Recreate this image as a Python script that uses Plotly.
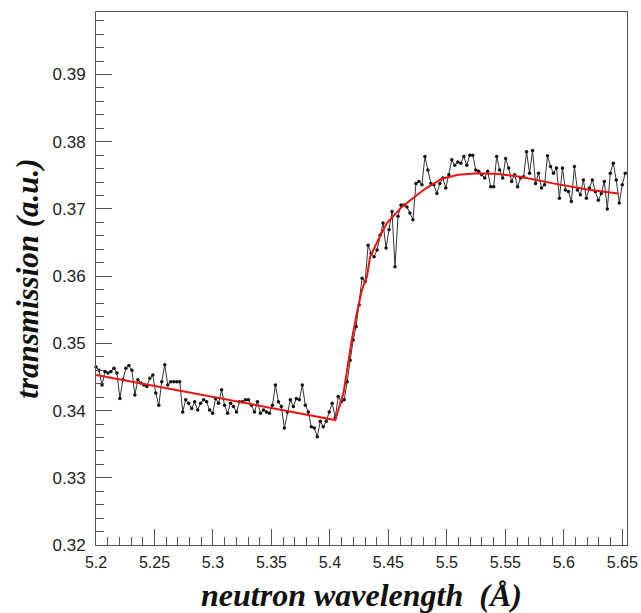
import numpy as np
import plotly.graph_objects as go

# measured transmission (black points), in order of increasing wavelength
seg_a = [0.3465, 0.3460, 0.3438, 0.3458, 0.3456, 0.3458, 0.3463, 0.3456, 0.3418, 0.3446,
         0.3463, 0.3467, 0.3460, 0.3423, 0.3446, 0.3441, 0.3438, 0.3436, 0.3448, 0.3453,
         0.3426, 0.3408, 0.3443, 0.3468, 0.3438]
seg_b = [0.3443, 0.3443, 0.3443, 0.3443, 0.3398, 0.3416, 0.3411, 0.3403, 0.3413, 0.3401,
         0.3411, 0.3416, 0.3413, 0.3401, 0.3396, 0.3418, 0.3411, 0.3431, 0.3408, 0.3396,
         0.3411, 0.3406, 0.3398, 0.3413, 0.3413, 0.3416]
seg_c = [0.3416, 0.3408, 0.3398, 0.3413, 0.3396, 0.3401, 0.3398, 0.3396, 0.3408, 0.3438,
         0.3413, 0.3406, 0.3374, 0.3398, 0.3416, 0.3406, 0.3418, 0.3416, 0.3438, 0.3408,
         0.3398, 0.3376, 0.3374, 0.3361, 0.3384, 0.3376, 0.3384, 0.3398, 0.3411, 0.3389]
seg_d = [0.3421, 0.3413, 0.3416, 0.3443, 0.3475, 0.3505, 0.3525, 0.3557, 0.3597, 0.3592,
         0.3646, 0.3634, 0.3629, 0.3639, 0.3661, 0.3679, 0.3642, 0.3669, 0.3696, 0.3614,
         0.3689, 0.3706, 0.3706, 0.3703, 0.3694, 0.3684, 0.3738, 0.3741, 0.3736]
seg_e = [0.3778, 0.3758, 0.3738, 0.3736, 0.3723, 0.3738, 0.3746, 0.3731, 0.3751, 0.3773,
         0.3765, 0.3770, 0.3768, 0.3778, 0.3765, 0.3780, 0.3780, 0.3758, 0.3756, 0.3751,
         0.3746, 0.3756, 0.3733, 0.3733, 0.3778, 0.3758, 0.3746, 0.3775, 0.3761, 0.3741,
         0.3751, 0.3733, 0.3746, 0.3748, 0.3785]
seg_f = [0.3753, 0.3787, 0.3738, 0.3753, 0.3731, 0.3736, 0.3779, 0.3763, 0.3753, 0.3761,
         0.3716, 0.3761, 0.3728, 0.3726, 0.3711, 0.3763, 0.3728, 0.3721, 0.3743, 0.3716,
         0.3731, 0.3743, 0.3726, 0.3713, 0.3723, 0.3741, 0.3700, 0.3753, 0.3768, 0.3743,
         0.3709, 0.3736, 0.3753]
transmission = seg_a + seg_b + seg_c + seg_d + seg_e + seg_f
wl_first, wl_last = 5.2, 5.6525
wavelength = list(np.linspace(wl_first, wl_last, len(transmission)))

# fitted curve (red)
fit_wavelength = [5.2, 5.2667, 5.3231, 5.35, 5.4045, 5.4116, 5.4187, 5.423, 5.4273, 5.4316,
                  5.4344, 5.443, 5.4487, 5.4615, 5.4714, 5.4814, 5.4957, 5.5097, 5.5268,
                  5.5439, 5.5627, 5.5909, 5.62, 5.6465]
fit_transmission = [0.3453, 0.3431, 0.3413, 0.3404, 0.3386, 0.3426, 0.3505, 0.3545, 0.3579,
                    0.3599, 0.3629, 0.3660, 0.3679, 0.3703, 0.3716, 0.3730, 0.3745, 0.3751,
                    0.3753, 0.3752, 0.3748, 0.3738, 0.3729, 0.3723]

x_ticks = [5.2, 5.25, 5.3, 5.35, 5.4, 5.45, 5.5, 5.55, 5.6, 5.65]
x_ticklabels = ["5.2", "5.25", "5.3", "5.35", "5.4", "5.45", "5.5", "5.55", "5.6", "5.65"]
y_ticks = [0.32, 0.33, 0.34, 0.35, 0.36, 0.37, 0.38, 0.39]
y_ticklabels = ["0.32", "0.33", "0.34", "0.35", "0.36", "0.37", "0.38", "0.39"]

fig = go.Figure()
fig.add_trace(go.Scatter(
    x=wavelength, y=transmission, mode="lines+markers",
    line=dict(color="#333333", width=1),
    marker=dict(color="#111111", size=3.5, symbol="circle"),
    showlegend=False, hoverinfo="skip", cliponaxis=False))
fig.add_trace(go.Scatter(
    x=fit_wavelength, y=fit_transmission, mode="lines",
    line=dict(color="#ee1111", width=2),
    showlegend=False, hoverinfo="skip"))

axis_common = dict(
    showgrid=False, zeroline=False, showline=True, linecolor="#555555", linewidth=1,
    mirror=True, ticks="inside", tickcolor="#555555", ticklen=16, tickwidth=1,
    automargin=False,
)

fig.update_xaxes(
    range=[5.2, 5.654], tickvals=x_ticks, ticktext=x_ticklabels,
    minor=dict(dtick=0.01, tick0=5.2, ticks="inside", ticklen=8, tickcolor="#555555"),
    ticklabelstandoff=3,
    tickfont=dict(family="Liberation Sans", size=16, color="#222222"),
    title=dict(text="neutron wavelength  (Å)",
               font=dict(family="Liberation Serif", size=32, color="#111111",
                         weight="bold", style="italic"),
               standoff=20),
    **axis_common)
fig.update_yaxes(
    range=[0.32, 0.3993], tickvals=y_ticks, ticktext=y_ticklabels,
    minor=dict(dtick=0.002, tick0=0.32, ticks="inside", ticklen=8, tickcolor="#555555"),
    ticklabelstandoff=6,
    tickfont=dict(family="Liberation Sans", size=17, color="#222222"),
    title=dict(text="transmission (a.u.)",
               font=dict(family="Liberation Serif", size=31, color="#111111",
                         weight="bold", style="italic"),
               standoff=4),
    **axis_common)

fig.update_layout(
    width=641, height=613,
    margin=dict(l=96, r=14, t=12, b=68),
    paper_bgcolor="white", plot_bgcolor="white",
)

fig.write_html("out.html", config={"displayModeBar": False},
               post_script="document.body.style.margin='0';document.body.style.overflow='hidden';")
